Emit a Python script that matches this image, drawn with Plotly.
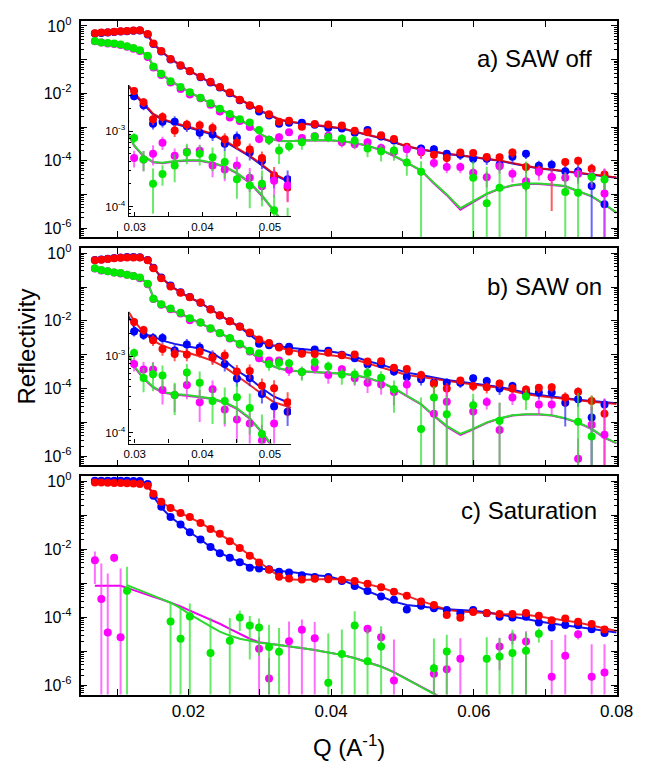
import plotly.graph_objects as go

# Momentum transfer grid of the measured points (1/A)
q = [0.0069, 0.0078, 0.0087, 0.0096, 0.0105, 0.0114, 0.0123, 0.0132,
     0.0143, 0.0151, 0.0162, 0.0175, 0.0189, 0.0202, 0.0217, 0.0231,
     0.0244, 0.0258, 0.0272, 0.0286, 0.0299, 0.0313, 0.0327, 0.0341,
     0.0359, 0.0377, 0.0396, 0.0415, 0.0433, 0.0451, 0.0470, 0.0488,
     0.0506, 0.0526, 0.0544, 0.0562, 0.0581, 0.0599, 0.0618, 0.0636,
     0.0654, 0.0673, 0.0691, 0.0709, 0.0728, 0.0746, 0.0765, 0.0783]
# Grid of the model curves (same points plus the upper end of the range)
q_fit = q + [0.0800]

# ---------------- a) SAW off ----------------
a_red = [0.61, 0.64, 0.65, 0.67, 0.70, 0.71, 0.73, 0.75,
         0.58, 0.30, 0.18, 0.105, 0.068, 0.046, 0.031, 0.022,
         0.0154, 0.0105, 0.0064, 0.0044, 3.4e-3, 2.4e-3, 1.43e-3, 1.53e-3,
         1.02e-3, 1.22e-3, 1.19e-3, 1.1e-3, 7.8e-4, 7.0e-4, 5.7e-4, 4.4e-4,
         2.6e-4, 1.78e-4, 1.5e-4, 1.2e-4, 1.76e-4, 1.68e-4, 1.29e-4, 1.26e-4,
         1.76e-4, 6.5e-5, 5.2e-5, 3.2e-5, 9.1e-5, 1.0e-4, 5.8e-5, 3.9e-5]
a_red_err = [0.03, 0.03, 0.03, 0.03, 0.03, 0.03, 0.03, 0.03,
             0.03, 0.04, 0.04, 0.04, 0.05, 0.05, 0.05, 0.06,
             0.06, 0.07, 0.08, 0.09, 0.12, 0.14, 0.16, 0.16,
             0.18, 0.16, 0.16, 0.18, 0.20, 0.20, 0.20, 0.22,
             0.28, 0.35, 0.30, 0.35, 0.22, 0.22, 0.28, 0.28,
             0.30, 0.35, 0.35, 0.90, 0.30, 0.30, 0.40, 0.45]
a_blue = [0.60, 0.62, 0.64, 0.66, 0.68, 0.70, 0.72, 0.73,
          0.56, 0.29, 0.175, 0.10, 0.066, 0.045, 0.030, 0.021,
          0.0148, 0.0100, 0.0062, 0.0043, 2.9e-3, 2.2e-3, 1.25e-3, 1.33e-3,
          1.33e-3, 1.16e-3, 9.5e-4, 9.0e-4, 6.8e-4, 8.2e-4, 5.2e-4, 4.0e-4,
          2.4e-4, 2.3e-4, 2.2e-4, 1.6e-4, 1.5e-4, 1.15e-4, 1.15e-4, 7.6e-5,
          1.3e-4, 1.6e-4, 7.1e-5, 7.6e-5, 4.9e-5, 4.9e-5, 1.78e-5, 5.1e-6]
a_blue_err = [0.03, 0.03, 0.03, 0.03, 0.03, 0.03, 0.03, 0.03,
              0.03, 0.04, 0.04, 0.04, 0.05, 0.05, 0.05, 0.06,
              0.06, 0.07, 0.08, 0.09, 0.12, 0.14, 0.16, 0.16,
              0.18, 0.16, 0.18, 0.18, 0.20, 0.20, 0.22, 0.22,
              0.28, 0.30, 0.30, 0.30, 0.30, 0.30, 0.35, 0.35,
              0.35, 0.30, 0.40, 0.40, 0.45, 0.50, 3.3, 3.9]
a_mag = [0.35, 0.32, 0.30, 0.29, 0.27, 0.24, 0.21, 0.18,
         0.12, 0.058, 0.035, 0.021, 0.0135, 9.3e-3, 7.1e-3, 4.6e-3,
         2.9e-3, 1.9e-3, 1.5e-3, 1.0e-3, 4.4e-4, 4.2e-4, 5.0e-4, 7.0e-4,
         4.7e-4, 5.3e-4, 5.5e-4, 3.5e-4, 3.1e-4, 3.5e-4, 2.4e-4, 1.85e-4,
         2.2e-4, 1.9e-4, 8.5e-5, 6.5e-5, 6.5e-5, 4.4e-5, 3.2e-5, 6.8e-5,
         4.1e-5, 2.45e-5, 4.7e-5, 3.3e-5, 3.1e-5, 4.1e-5, 3.5e-5, 1.07e-5]
a_mag_err = [0.03, 0.03, 0.03, 0.03, 0.03, 0.03, 0.03, 0.03,
             0.03, 0.04, 0.04, 0.05, 0.05, 0.06, 0.06, 0.07,
             0.08, 0.09, 0.10, 0.12, 0.25, 0.30, 0.30, 0.20,
             0.25, 0.20, 0.20, 0.30, 0.30, 0.30, 0.35, 0.35,
             0.40, 0.40, 0.30, 0.35, 0.35, 0.40, 0.50, 0.40,
             0.45, 0.50, 0.45, 0.50, 0.50, 0.50, 0.55, 4.6]
a_green = [0.36, 0.32, 0.31, 0.30, 0.28, 0.25, 0.22, 0.19,
           0.13, 0.063, 0.038, 0.023, 0.0155, 0.0107, 7.4e-3, 5.1e-3,
           3.5e-3, 2.45e-3, 1.7e-3, 1.35e-3, 8.1e-4, 4.2e-4, 2.0e-4, 2.7e-4,
           3.5e-4, 5.2e-4, 5.0e-4, 4.5e-4, 3.9e-4, 2.3e-4, 1.9e-4, 2.0e-4,
           8.9e-5, 4.7e-5, None, None, None, 3.1e-5, 5.5e-6, 1.58e-5,
           None, 1.8e-5, None, None, 1.17e-5, 1.12e-5, 3.3e-5, 2.75e-5]
a_green_err = [0.03, 0.03, 0.03, 0.03, 0.03, 0.03, 0.03, 0.03,
               0.03, 0.04, 0.04, 0.05, 0.05, 0.06, 0.06, 0.07,
               0.08, 0.09, 0.10, 0.12, 0.15, 0.30, 0.60, 0.30,
               0.40, 0.30, 0.30, 0.35, 0.40, 0.45, 0.50, 0.50,
               0.60, 1.05, 0, 0, 0, 2.1, 11.0, 4.4,
               0, 4.3, 0, 0, 2.7, 3.4, 0.4, 0.5]
a_fit_red = [0.62, 0.64, 0.66, 0.68, 0.70, 0.72, 0.74, 0.76,
             0.56, 0.30, 0.18, 0.108, 0.069, 0.046, 0.031, 0.021,
             0.0148, 0.0102, 0.0068, 0.0046, 3.2e-3, 2.35e-3, 1.7e-3, 1.45e-3,
             1.28e-3, 1.16e-3, 1.03e-3, 9.2e-4, 7.5e-4, 6.0e-4, 4.7e-4, 3.6e-4,
             2.7e-4, 2.2e-4, 1.87e-4, 1.62e-4, 1.45e-4, 1.29e-4, 1.15e-4, 1.02e-4,
             8.5e-5, 7.1e-5, 6.0e-5, 5.5e-5, 4.9e-5, 4.4e-5, 3.9e-5, 3.55e-5,
             3.2e-5]
a_fit_blue = [0.60, 0.62, 0.64, 0.66, 0.68, 0.70, 0.72, 0.74,
              0.54, 0.29, 0.175, 0.105, 0.067, 0.045, 0.030, 0.0205,
              0.0144, 0.0099, 0.0066, 0.0045, 3.1e-3, 2.3e-3, 1.66e-3, 1.42e-3,
              1.25e-3, 1.13e-3, 1.0e-3, 9.0e-4, 7.3e-4, 5.85e-4, 4.6e-4, 3.5e-4,
              2.65e-4, 2.15e-4, 1.83e-4, 1.58e-4, 1.42e-4, 1.26e-4, 1.12e-4, 1.0e-4,
              8.3e-5, 6.9e-5, 5.9e-5, 5.4e-5, 4.8e-5, 4.3e-5, 3.8e-5, 3.45e-5,
              3.1e-5]
a_fit_green = [0.36, 0.33, 0.31, 0.30, 0.28, 0.25, 0.22, 0.19,
               0.13, 0.065, 0.038, 0.024, 0.016, 0.0107, 7.5e-3, 5.0e-3,
               3.4e-3, 2.4e-3, 1.7e-3, 1.1e-3, 6.5e-4, 4.7e-4, 3.9e-4, 3.8e-4,
               4.0e-4, 4.1e-4, 4.1e-4, 3.8e-4, 3.4e-4, 2.8e-4, 2.1e-4, 1.41e-4,
               8.9e-5, 5.2e-5, 2.2e-5, 1.0e-5, 3.9e-6, 6.3e-6, 1.05e-5, 1.5e-5,
               1.86e-5, 2.1e-5, 2.1e-5, 1.95e-5, 1.78e-5, 1.26e-5, 8.9e-6, 5.1e-6,
               2.9e-6]
a_fit_mag = [0.35, 0.32, 0.30, 0.29, 0.27, 0.24, 0.21, 0.185,
             0.125, 0.062, 0.037, 0.023, 0.0155, 0.0104, 7.3e-3, 4.9e-3,
             3.3e-3, 2.35e-3, 1.65e-3, 1.08e-3, 6.4e-4, 4.6e-4, 3.85e-4, 3.75e-4,
             3.95e-4, 4.05e-4, 4.05e-4, 3.75e-4, 3.35e-4, 2.75e-4, 2.05e-4, 1.38e-4,
             8.7e-5, 5.1e-5, 2.1e-5, 9.5e-6, 3.5e-6, 6.0e-6, 1.02e-5, 1.47e-5,
             1.83e-5, 2.05e-5, 2.05e-5, 1.9e-5, 1.74e-5, 1.23e-5, 8.7e-6, 5.0e-6,
             2.8e-6]

# ---------------- b) SAW on ----------------
b_red = [0.62, 0.64, 0.67, 0.71, 0.73, 0.75, 0.75, 0.75,
         0.62, 0.36, 0.18, 0.104, 0.068, 0.050, 0.035, 0.0215,
         0.0147, 9.8e-3, 6.7e-3, 4.5e-3, 2.8e-3, 2.2e-3, 1.62e-3, 1.24e-3,
         1.07e-3, 1.05e-3, 1.14e-3, 9.6e-4, 1.02e-3, 6.3e-4, 6.4e-4, 4.1e-4,
         3.8e-4, 2.5e-4, 1.38e-4, 1.0e-4, 1.74e-4, 1.18e-4, 1.1e-4, 1.4e-4,
         1.0e-4, 9.4e-5, 1.05e-4, 1.1e-4, 5.4e-5, 8.1e-5, 4.3e-5, 1.8e-5]
b_red_err = [0.03, 0.03, 0.03, 0.03, 0.03, 0.03, 0.03, 0.03,
             0.03, 0.04, 0.04, 0.04, 0.05, 0.05, 0.05, 0.06,
             0.06, 0.07, 0.08, 0.09, 0.12, 0.14, 0.16, 0.18,
             0.20, 0.18, 0.16, 0.20, 0.20, 0.22, 0.22, 0.25,
             0.28, 0.35, 0.50, 0.45, 0.25, 0.30, 0.35, 0.30,
             0.35, 0.30, 0.30, 0.30, 0.45, 0.35, 0.45, 1.3]
b_blue = [0.63, 0.65, 0.68, 0.72, 0.75, 0.77, 0.77, 0.76,
          0.63, 0.37, 0.19, 0.11, 0.070, 0.051, 0.034, 0.022,
          0.0145, 9.8e-3, 6.8e-3, 4.3e-3, 2.1e-3, 1.9e-3, 1.73e-3, 1.73e-3,
          1.19e-3, 1.42e-3, 1.3e-3, 1.0e-3, 7.9e-4, 5.1e-4, 5.2e-4, 3.2e-4,
          2.2e-4, 1.88e-4, 1.48e-4, 1.48e-4, 1.48e-4, 2.0e-4, 1.66e-4, 1.0e-4,
          1.18e-4, 7.6e-5, 7.6e-5, 7.6e-5, 3.8e-5, 4.8e-5, 1.4e-5, 3.4e-5]
b_blue_err = [0.03, 0.03, 0.03, 0.03, 0.03, 0.03, 0.03, 0.03,
              0.03, 0.04, 0.04, 0.04, 0.05, 0.05, 0.05, 0.06,
              0.06, 0.07, 0.08, 0.09, 0.14, 0.14, 0.16, 0.16,
              0.20, 0.18, 0.18, 0.20, 0.20, 0.22, 0.22, 0.25,
              0.30, 0.35, 0.35, 0.35, 0.30, 0.30, 0.35, 0.35,
              0.35, 0.35, 0.35, 0.35, 0.80, 0.40, 1.0, 0.45]
b_mag = [0.35, 0.31, 0.29, 0.27, 0.25, 0.23, 0.21, 0.18,
         0.12, 0.044, 0.030, 0.022, 0.0165, 0.0105, 8.9e-3, 5.8e-3,
         4.3e-3, 3.0e-3, 2.0e-3, 1.25e-3, 7.9e-4, 6.7e-4, 6.7e-4, 3.6e-4,
         3.1e-4, 4.2e-4, 2.5e-4, 3.7e-4, 2.0e-4, 1.48e-4, 1.32e-4, 7.9e-5,
         1.32e-4, None, 1.8e-5, 4.1e-5, None, 2.1e-5, 4.0e-5, 6.0e-6,
         5.4e-5, None, 3.4e-5, 3.4e-5, None, 8.5e-7, 8.5e-6, 4.3e-6]
b_mag_err = [0.03, 0.03, 0.03, 0.03, 0.03, 0.03, 0.03, 0.03,
             0.03, 0.04, 0.04, 0.05, 0.05, 0.06, 0.06, 0.07,
             0.08, 0.09, 0.10, 0.12, 0.20, 0.25, 0.25, 0.35,
             0.40, 0.35, 0.45, 0.30, 0.40, 0.50, 0.50, 0.60,
             0.50, 0, 3.2, 2.0, 0, 1.3, 0.4, 5.3,
             0.4, 0, 0.5, 0.5, 0, 3.0, 2.5, 11.0]
b_green = [0.36, 0.32, 0.29, 0.27, 0.26, 0.23, 0.21, 0.19,
           0.124, 0.045, 0.031, 0.023, 0.0175, 0.012, 8.9e-3, 6.0e-3,
           4.4e-3, 3.1e-3, 2.1e-3, 1.3e-3, 1.1e-3, 5.2e-4, 5.8e-4, 5.6e-4,
           3.1e-4, 6.1e-4, 4.5e-4, 2.6e-4, 2.6e-4, 2.9e-4, 2.1e-4, 9.6e-5,
           None, 6.4e-6, 5.4e-5, 1.75e-5, None, 3.2e-5, None, 1.12e-5,
           None, 5.8e-5, None, None, None, 1.05e-5, 3.8e-6, None]
b_green_err = [0.03, 0.03, 0.03, 0.03, 0.03, 0.03, 0.03, 0.03,
               0.03, 0.04, 0.04, 0.05, 0.05, 0.06, 0.06, 0.07,
               0.08, 0.09, 0.10, 0.12, 0.15, 0.35, 0.40, 0.35,
               0.45, 0.30, 0.40, 0.50, 0.50, 0.50, 0.55, 0.80,
               0, 7.5, 1.2, 2.4, 0, 1.2, 0, 2.4,
               0, 0.6, 0, 0, 0, 6.0, 15.0, 0]
b_fit_red = [0.63, 0.65, 0.68, 0.71, 0.73, 0.75, 0.76, 0.76,
             0.60, 0.38, 0.19, 0.107, 0.068, 0.048, 0.034, 0.022,
             0.0148, 9.8e-3, 6.8e-3, 4.5e-3, 2.9e-3, 2.05e-3, 1.6e-3, 1.38e-3,
             1.2e-3, 1.12e-3, 1.0e-3, 8.7e-4, 7.2e-4, 5.6e-4, 4.2e-4, 3.2e-4,
             2.5e-4, 2.2e-4, 1.9e-4, 1.66e-4, 1.48e-4, 1.32e-4, 1.18e-4, 1.05e-4,
             8.5e-5, 6.8e-5, 6.0e-5, 5.4e-5, 4.8e-5, 4.5e-5, 4.1e-5, 3.8e-5,
             3.5e-5]
b_fit_blue = [0.64, 0.66, 0.69, 0.72, 0.75, 0.77, 0.77, 0.77,
              0.62, 0.38, 0.19, 0.11, 0.07, 0.049, 0.034, 0.022,
              0.0145, 9.6e-3, 6.5e-3, 4.0e-3, 2.4e-3, 1.95e-3, 1.82e-3, 1.6e-3,
              1.45e-3, 1.35e-3, 1.26e-3, 1.1e-3, 8.7e-4, 6.5e-4, 5.1e-4, 3.8e-4,
              2.95e-4, 2.5e-4, 2.1e-4, 1.8e-4, 1.6e-4, 1.42e-4, 1.26e-4, 1.12e-4,
              9.3e-5, 7.5e-5, 6.5e-5, 5.8e-5, 5.1e-5, 4.7e-5, 4.3e-5, 4.0e-5,
              3.7e-5]
b_fit_green = [0.36, 0.33, 0.30, 0.28, 0.26, 0.24, 0.22, 0.19,
               0.13, 0.05, 0.032, 0.021, 0.0166, 0.0123, 8.7e-3, 6.3e-3,
               4.5e-3, 3.1e-3, 2.2e-3, 1.3e-3, 7.5e-4, 5.2e-4, 4.0e-4, 3.4e-4,
               3.2e-4, 3.1e-4, 2.95e-4, 2.8e-4, 2.5e-4, 2.1e-4, 1.55e-4, 1.02e-4,
               6.3e-5, 3.5e-5, 1.6e-5, 7.9e-6, 4.6e-6, 6.5e-6, 1.0e-5, 1.32e-5,
               1.62e-5, 1.74e-5, 1.74e-5, 1.62e-5, 1.32e-5, 1.0e-5, 6.5e-6, 3.6e-6,
               2.45e-6]
b_fit_mag = [0.35, 0.32, 0.29, 0.27, 0.25, 0.23, 0.21, 0.185,
             0.125, 0.049, 0.031, 0.0205, 0.0162, 0.012, 8.5e-3, 6.1e-3,
             4.4e-3, 3.0e-3, 2.15e-3, 1.27e-3, 7.3e-4, 5.1e-4, 3.9e-4, 3.35e-4,
             3.15e-4, 3.05e-4, 2.9e-4, 2.75e-4, 2.45e-4, 2.05e-4, 1.52e-4, 1.0e-4,
             6.1e-5, 3.4e-5, 1.55e-5, 7.5e-6, 4.3e-6, 6.2e-6, 9.7e-6, 1.29e-5,
             1.59e-5, 1.71e-5, 1.71e-5, 1.59e-5, 1.29e-5, 9.7e-6, 6.3e-6, 3.5e-6,
             2.4e-6]

# ---------------- c) Saturation ----------------
c_red = [0.93, 0.92, 0.91, 0.90, 0.89, 0.88, 0.86, 0.84,
         0.75, 0.43, 0.25, 0.166, 0.118, 0.089, 0.060, 0.040,
         0.029, 0.0175, 0.011, 6.5e-3, 4.1e-3, 2.5e-3, 1.56e-3, 1.39e-3,
         1.3e-3, 1.38e-3, 1.33e-3, 1.28e-3, 1.18e-3, 9.8e-4, 7.7e-4, 5.7e-4,
         4.3e-4, 2.95e-4, 2.3e-4, 1.18e-4, 9.8e-5, 1.45e-4, 1.35e-4, 1.25e-4,
         1.25e-4, 1.35e-4, 1.12e-4, 8.3e-5, 9.2e-5, 7.4e-5, 6.4e-5, 4.4e-5]
c_red_err = [0.03, 0.03, 0.03, 0.03, 0.03, 0.03, 0.03, 0.03,
             0.03, 0.03, 0.03, 0.03, 0.03, 0.03, 0.04, 0.04,
             0.04, 0.04, 0.05, 0.05, 0.05, 0.06, 0.06, 0.07,
             0.07, 0.07, 0.08, 0.08, 0.08, 0.09, 0.09, 0.10,
             0.10, 0.11, 0.12, 0.14, 0.15, 0.14, 0.15, 0.15,
             0.15, 0.15, 0.16, 0.17, 0.17, 0.18, 0.18, 0.20]
c_blue = [1.05, 1.05, 1.05, 1.04, 1.04, 1.04, 1.03, 1.02,
          0.84, 0.38, 0.18, 0.089, 0.054, 0.032, 0.0196, 0.0118,
          7.7e-3, 5.7e-3, 4.2e-3, 2.9e-3, 2.75e-3, 2.6e-3, 2.2e-3, 2.1e-3,
          1.74e-3, 1.55e-3, 1.55e-3, 1.18e-3, 8.4e-4, 6.0e-4, 4.1e-4, 3.3e-4,
          1.7e-4, 2.2e-4, 1.86e-4, 1.66e-4, 1.32e-4, 1.66e-4, 1.32e-4, 1.05e-4,
          1.0e-4, 1.05e-4, 7.1e-5, 5.0e-5, 6.0e-5, 5.9e-5, 4.5e-5, 3.5e-5]
c_blue_err = [0.03, 0.03, 0.03, 0.03, 0.03, 0.03, 0.03, 0.03,
              0.03, 0.03, 0.03, 0.03, 0.03, 0.03, 0.04, 0.04,
              0.04, 0.04, 0.05, 0.05, 0.05, 0.06, 0.06, 0.07,
              0.07, 0.07, 0.08, 0.08, 0.08, 0.09, 0.09, 0.12,
              0.12, 0.11, 0.12, 0.14, 0.15, 0.14, 0.15, 0.15,
              0.15, 0.15, 0.16, 0.20, 0.17, 0.18, 0.18, 0.20]
c_mag = [4.8e-3, 3.5e-4, 3.6e-5, 5.7e-3, 2.6e-5, None, None, None,
         None, None, None, None, None, None, None, None,
         None, None, None, None, 1.2e-5, 1.6e-6, None, 2.0e-5,
         4.3e-5, 2.45e-5, None, None, None, 4.6e-5, 2.6e-5, 1.4e-6,
         None, None, 2.2e-6, 3.0e-6, 6.1e-6, None, None, 1.4e-5,
         2.6e-5, 1.95e-5, None, 1.8e-6, 7.5e-6, 3.2e-5, 1.8e-6, 2.4e-6]
c_mag_err = [0.8, 9.9, 53.0, 0.26, 104.0, 0, 0, 0,
             0, 0, 0, 0, 0, 0, 0, 0,
             0, 0, 0, 0, 1.2, 3.0, 0, 2.8,
             1.0, 2.0, 0, 0, 0, 0.3, 0.6, 15.0,
             0, 0, 1.0, 3.0, 3.0, 0, 0, 0.8,
             0.4, 1.0, 0, 11.0, 3.1, 0.3, 8.0, 5.7]
c_green = [None, None, None, None, None, 6.1e-4, None, None,
           None, None, None, 7.6e-5, 2.35e-5, 1.07e-4, None, 8.9e-6,
           None, 2.05e-5, 1.0e-4, 5.8e-5, 5.0e-5, 1.35e-5, 9.8e-6, None,
           None, None, 1.2e-6, 8.4e-6, 5.8e-5, 5.1e-6, 1.4e-5, None,
           None, None, 3.2e-6, 1.0e-5, None, None, 6.1e-6, 7.1e-6,
           8.9e-6, 1.05e-5, 3.3e-5, None, None, None, None, None]
c_green_err = [0, 0, 0, 0, 0, 4.1, 0, 0,
               0, 0, 0, 2.8, 7.9, 1.4, 0, 10.0,
               0, 3.7, 0.6, 0.9, 0.85, 3.5, 4.0, 0,
               0, 0, 27.0, 4.2, 1.6, 8.0, 2.9, 0,
               0, 0, 6.5, 2.1, 0, 0, 3.3, 2.5,
               3.9, 2.4, 0.45, 0, 0, 0, 0, 0]
c_fit_red = [0.93, 0.92, 0.91, 0.90, 0.89, 0.88, 0.87, 0.86,
             0.76, 0.42, 0.25, 0.165, 0.118, 0.088, 0.060, 0.040,
             0.028, 0.0185, 0.011, 6.7e-3, 4.1e-3, 2.5e-3, 1.6e-3, 1.32e-3,
             1.26e-3, 1.3e-3, 1.35e-3, 1.32e-3, 1.17e-3, 9.5e-4, 7.6e-4, 5.6e-4,
             4.3e-4, 3.0e-4, 2.3e-4, 1.66e-4, 1.48e-4, 1.41e-4, 1.32e-4, 1.26e-4,
             1.23e-4, 1.19e-4, 1.07e-4, 9.5e-5, 8.3e-5, 7.1e-5, 5.8e-5, 4.7e-5,
             4.0e-5]
c_fit_blue = [1.05, 1.05, 1.05, 1.04, 1.04, 1.04, 1.03, 1.02,
              0.85, 0.36, 0.17, 0.09, 0.054, 0.032, 0.0196, 0.0118,
              7.9e-3, 5.6e-3, 4.2e-3, 3.2e-3, 2.75e-3, 2.57e-3, 2.3e-3, 2.2e-3,
              1.95e-3, 1.74e-3, 1.62e-3, 1.26e-3, 8.9e-4, 5.9e-4, 4.1e-4, 2.9e-4,
              2.3e-4, 2.1e-4, 1.86e-4, 1.74e-4, 1.66e-4, 1.58e-4, 1.41e-4, 1.23e-4,
              1.05e-4, 8.9e-5, 7.6e-5, 6.5e-5, 5.8e-5, 5.2e-5, 4.6e-5, 4.0e-5,
              3.6e-5]
c_fit_mag = [8.5e-4, 8.5e-4, 8.5e-4, 8.5e-4, 8.5e-4, 7.4e-4, 6.3e-4, 5.4e-4,
             4.6e-4, 4.0e-4, 3.4e-4, 2.7e-4, 2.1e-4, 1.58e-4, 1.17e-4, 8.9e-5,
             6.5e-5, 4.6e-5, 3.3e-5, 2.35e-5, 1.86e-5, 1.7e-5, 1.55e-5, 1.44e-5,
             1.26e-5, 1.1e-5, 9.3e-6, 7.9e-6, 6.4e-6, 4.9e-6, 3.6e-6, 2.45e-6,
             1.55e-6, 9.3e-7, 5.9e-7, 3.6e-7, None, None, None, None,
             None, None, None, None, None, None, None, None,
             None]
c_fit_green = [None, None, None, None, None, 8.9e-4, 7.4e-4, 6.2e-4,
               5.1e-4, 4.4e-4, 3.5e-4, 2.7e-4, 1.86e-4, 1.23e-4, 7.9e-5, 5.4e-5,
               3.8e-5, 2.9e-5, 2.35e-5, 2.0e-5, 1.8e-5, 1.68e-5, 1.55e-5, 1.43e-5,
               1.25e-5, 1.09e-5, 9.2e-6, 7.8e-6, 6.3e-6, 4.8e-6, 3.55e-6, 2.4e-6,
               1.5e-6, 9.0e-7, 5.7e-7, 3.5e-7, None, None, None, None,
               None, None, None, None, None, None, None, None,
               None]

panel_labels = ["a) SAW off", "b) SAW on", "c) Saturation"]

# Axis tick positions and labels
x_major = [0.02, 0.04, 0.06, 0.08]
x_major_text = ["0.02", "0.04", "0.06", "0.08"]
x_minor = [0.01, 0.03, 0.05, 0.07]
y_major = [1, 1e-2, 1e-4, 1e-6]
y_major_text = ["10<sup>0</sup>", "10<sup>-2</sup>", "10<sup>-4</sup>", "10<sup>-6</sup>"]
y_odd_decades = [1e-1, 1e-3, 1e-5]
inset_x_major = [0.03, 0.04, 0.05]
inset_x_text = ["0.03", "0.04", "0.05"]
inset_x_minor = [0.035, 0.045]
inset_y_major = [1e-3, 1e-4]
inset_y_text = ["10<sup>-3</sup>", "10<sup>-4</sup>"]
x_title = "Q (A<sup>-1</sup>)"
y_title = "Reflectivity"

# ---------------- styling ----------------
RED, BLUE, MAG, GRN = "red", "blue", "magenta", "green"
MARKER = {RED: "rgb(255,0,0)", BLUE: "rgb(0,0,255)", MAG: "rgb(255,0,255)", GRN: "rgb(0,232,0)"}
BAR = {RED: "rgba(255,40,40,0.75)", BLUE: "rgba(40,40,255,0.7)",
       MAG: "rgba(255,50,255,0.7)", GRN: "rgba(40,225,40,0.7)"}
LINE = {RED: "rgba(235,0,0,0.85)", BLUE: "rgb(20,20,240)", MAG: "rgb(240,0,240)", GRN: "rgb(45,215,45)"}
FONT = "Liberation Sans, Arial, sans-serif"

W, H = 652, 766
X0, X1 = 79, 633


def ydom(top, bottom):
    return [(H - bottom) / H, (H - top) / H]


fig = go.Figure()


def add_fit(y, col, xa, ya):
    fig.add_trace(go.Scatter(x=q_fit, y=y, mode="lines",
                             line=dict(color=LINE[col], width=2),
                             xaxis=xa, yaxis=ya, showlegend=False, hoverinfo="skip"))


def add_data(y, rel, col, xa, ya):
    sig = [None if v is None else v * r for v, r in zip(y, rel)]
    fig.add_trace(go.Scatter(x=q, y=y, mode="markers",
                             marker=dict(color=MARKER[col], size=8, line=dict(width=0)),
                             error_y=dict(type="data", array=sig, arrayminus=sig, symmetric=False,
                                          color=BAR[col], thickness=2, width=0),
                             xaxis=xa, yaxis=ya, showlegend=False, hoverinfo="skip"))


panels = [
    dict(fits=[(a_fit_blue, BLUE), (a_fit_red, RED), (a_fit_mag, MAG), (a_fit_green, GRN)],
         data=[(a_blue, a_blue_err, BLUE), (a_red, a_red_err, RED),
               (a_mag, a_mag_err, MAG), (a_green, a_green_err, GRN)],
         axes=[("x", "y"), ("x4", "y4")]),
    dict(fits=[(b_fit_blue, BLUE), (b_fit_red, RED), (b_fit_mag, MAG), (b_fit_green, GRN)],
         data=[(b_blue, b_blue_err, BLUE), (b_red, b_red_err, RED),
               (b_mag, b_mag_err, MAG), (b_green, b_green_err, GRN)],
         axes=[("x2", "y2"), ("x5", "y5")]),
    dict(fits=[(c_fit_blue, BLUE), (c_fit_red, RED), (c_fit_mag, MAG), (c_fit_green, GRN)],
         data=[(c_blue, c_blue_err, BLUE), (c_red, c_red_err, RED),
               (c_mag, c_mag_err, MAG), (c_green, c_green_err, GRN)],
         axes=[("x3", "y3")]),
]

for p in panels:
    for xa, ya in p["axes"]:
        for y, col in p["fits"]:
            add_fit(y, col, xa, ya)
        for y, rel, col in p["data"]:
            add_data(y, rel, col, xa, ya)

# ---------------- axes ----------------
y_minor = [m * 10.0 ** e for e in range(-7, 1) for m in range(2, 10)]
TICKFONT_X = dict(family=FONT, size=17, color="black")
TICKFONT_Y = dict(family=FONT, size=16, color="black")

main_rows = [(15, 233), (244, 463), (474, 694)]
for i, (top, bot) in enumerate(main_rows):
    n = "" if i == 0 else str(i + 1)
    fig.layout["xaxis" + n] = dict(
        domain=[X0 / W, X1 / W], range=[0.005, 0.08], anchor="y" + n,
        showline=True, linecolor="black", linewidth=1.5, mirror="ticks",
        ticks="inside", ticklen=6, tickwidth=1.3, tickcolor="black",
        tickmode="array", tickvals=x_major, ticktext=x_major_text,
        minor=dict(tickmode="array", tickvals=x_minor, ticks="inside",
                   ticklen=6, tickwidth=1.3, tickcolor="black"),
        showticklabels=(i == 2), showgrid=False, zeroline=False,
        tickfont=TICKFONT_X)
    fig.layout["yaxis" + n] = dict(
        domain=ydom(top, bot), type="log", range=[-6.27, 0.15], anchor="x" + n,
        showline=True, linecolor="black", linewidth=1.5, mirror="ticks",
        ticks="inside", ticklen=6, tickwidth=1.3, tickcolor="black",
        tickmode="array", tickvals=y_major, ticktext=y_major_text,
        minor=dict(tickmode="array", tickvals=y_minor, ticks="inside",
                   ticklen=3, tickwidth=1, tickcolor="black"),
        showgrid=False, zeroline=False, ticklabelstandoff=5,
        tickfont=TICKFONT_Y)
    # unlabelled decade ticks, overlaid on the same scale
    k = str(6 + i)
    fig.layout["yaxis" + k] = dict(
        overlaying="y" + n, anchor="x" + n, side="left", type="log", range=[-6.27, 0.15],
        showline=True, linecolor="black", linewidth=1.5, mirror="ticks",
        ticks="inside", ticklen=6, tickwidth=1.3, tickcolor="black",
        tickmode="array", tickvals=y_odd_decades, showticklabels=False,
        showgrid=False, zeroline=False)
    fig.add_trace(go.Scatter(x=[0.05], y=[1e-9], mode="markers", marker=dict(opacity=0),
                             xaxis="x" + n, yaxis="y" + k, showlegend=False, hoverinfo="skip"))

inset_rows = [(4, (80, 212), [-4.13, -2.395]), (5, (308, 441), [-4.143, -2.416])]
ins_minor = [m * 10.0 ** e for e in (-5, -4, -3) for m in range(2, 10)]
for n, (top, bot), yr in inset_rows:
    n = str(n)
    fig.layout["xaxis" + n] = dict(
        domain=[128 / W, 296 / W], range=[0.0291, 0.0531], anchor="y" + n,
        showline=True, linecolor="black", linewidth=1.2, mirror=False,
        ticks="inside", ticklen=4, tickwidth=1, tickcolor="black",
        tickmode="array", tickvals=inset_x_major, ticktext=inset_x_text,
        minor=dict(tickmode="array", tickvals=inset_x_minor, ticks="inside",
                   ticklen=4, tickwidth=1, tickcolor="black"),
        showgrid=False, zeroline=False,
        tickfont=dict(family=FONT, size=11.5, color="black"))
    fig.layout["yaxis" + n] = dict(
        domain=ydom(top, bot), type="log", range=yr, anchor="x" + n,
        showline=True, linecolor="black", linewidth=1.2, mirror=False,
        ticks="inside", ticklen=4, tickwidth=1, tickcolor="black",
        tickmode="array", tickvals=inset_y_major, ticktext=inset_y_text,
        minor=dict(tickmode="array", tickvals=ins_minor, ticks="inside",
                   ticklen=2.5, tickwidth=1, tickcolor="black"),
        showgrid=False, zeroline=False,
        tickfont=dict(family=FONT, size=11.5, color="black"))

# ---------------- text ----------------
label_pos = [(610, 53), (620, 283), (615, 508)]
annotations = []
for txt, (px, py) in zip(panel_labels, label_pos):
    annotations.append(dict(text=txt, x=px / W, y=(H - py) / H, xref="paper", yref="paper",
                            xanchor="right", yanchor="middle", showarrow=False,
                            font=dict(family=FONT, size=24, color="black")))
annotations.append(dict(text=y_title, x=22 / W, y=(H - 343) / H, xref="paper", yref="paper",
                        xanchor="center", yanchor="middle", textangle=-90, showarrow=False,
                        font=dict(family=FONT, size=24, color="black")))
annotations.append(dict(text=x_title, x=356 / W, y=(H - 746) / H, xref="paper", yref="paper",
                        xanchor="center", yanchor="middle", showarrow=False,
                        font=dict(family=FONT, size=24, color="black")))

fig.update_layout(width=W, height=H, margin=dict(l=0, r=0, t=0, b=0),
                  paper_bgcolor="white", plot_bgcolor="rgba(0,0,0,0)",
                  showlegend=False, annotations=annotations,
                  font=dict(family=FONT, color="black"))

fig.write_html("out.html")
